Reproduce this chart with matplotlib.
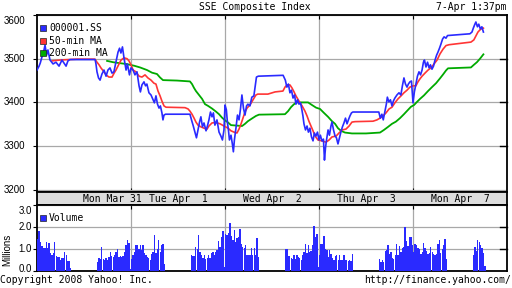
import matplotlib
matplotlib.use("Agg")
import matplotlib.pyplot as plt
from matplotlib.patches import Rectangle

# time axis = trading hours since Mon Mar 31 09:30 (5.5 h per trading day,
# 09:30-11:30 morning, 11:30-13:00 lunch, 13:00-15:00 afternoon)
day_bounds = [5.5, 11.0, 16.5, 22.0]
day_labels = ['Mon Mar 31', 'Tue Apr  1', 'Wed Apr  2', 'Thu Apr  3', 'Mon Apr  7']
day_label_t = [4.42, 8.25, 13.75, 19.25, 24.75]

price_t = [0.00, 0.12, 0.19, 0.29, 0.38, 0.47, 0.56, 0.64, 0.76, 0.94, 1.11, 1.29, 1.46, 1.58, 1.70, 1.81, 1.93,
           3.40, 3.45, 3.51, 3.60, 3.69, 3.80, 3.92, 4.04, 4.15, 4.27, 4.39, 4.50, 4.62, 4.74, 4.83, 4.91, 5.00,
           5.09, 5.21, 5.29, 5.41, 5.50,
           5.62, 5.73, 5.85, 5.97, 6.05, 6.14, 6.26, 6.35, 6.43, 6.55, 6.67, 6.79, 6.87, 6.96, 7.05, 7.14, 7.22,
           7.31, 7.37, 7.43, 7.52,
           8.95, 9.04, 9.13, 9.24, 9.33, 9.42, 9.51, 9.59, 9.68, 9.77, 9.89, 9.97, 10.06, 10.15, 10.24, 10.32,
           10.41, 10.53, 10.65, 10.76, 10.85, 10.94,
           11.00, 11.08, 11.14, 11.20, 11.26, 11.35, 11.43, 11.49, 11.55, 11.64, 11.73, 11.82, 11.90, 11.99,
           12.08, 12.17, 12.26, 12.34, 12.46, 12.57, 12.69, 12.78, 12.84, 12.95,
           14.40, 14.53, 14.62, 14.71, 14.80, 14.89, 14.98, 15.07, 15.15, 15.24, 15.33, 15.42, 15.50, 15.56,
           15.62, 15.71, 15.80, 15.88, 15.97, 16.06, 16.15, 16.23, 16.32, 16.41, 16.50,
           16.58, 16.67, 16.76, 16.82, 16.88, 16.94, 17.03, 17.11, 17.20, 17.26, 17.35, 17.44, 17.52, 17.61,
           17.70, 17.78, 17.87, 17.96, 18.05, 18.14, 18.22, 18.31, 18.40, 18.48,
           20.00, 20.09, 20.18, 20.26, 20.35, 20.44, 20.50, 20.59, 20.68, 20.77, 20.85, 20.94, 21.06, 21.18,
           21.29, 21.38, 21.47, 21.56, 21.65, 21.73, 21.82, 21.91,
           22.00, 22.08, 22.17, 22.26, 22.35, 22.44, 22.53, 22.61, 22.67, 22.76, 22.85, 22.94, 23.02, 23.11,
           23.20, 23.29, 23.38, 23.46, 23.55, 23.64, 23.73, 23.82, 23.93, 24.02,
           25.33, 25.45, 25.53, 25.62, 25.68, 25.77, 25.85, 25.94, 26.03, 26.12]
price = [3474, 3483, 3490, 3504, 3515, 3531, 3508, 3520, 3497, 3488, 3492, 3483, 3497, 3490, 3483, 3495, 3498,
         3498, 3488, 3470, 3456, 3451, 3465, 3474, 3460, 3474, 3479, 3467, 3470, 3492, 3515, 3524, 3513, 3527,
         3502, 3474, 3488, 3463, 3479,
         3474, 3463, 3470, 3438, 3424, 3440, 3447, 3438, 3442, 3422, 3417, 3406, 3399, 3415, 3396, 3387, 3392,
         3376, 3360, 3371, 3373,
         3373, 3360, 3348, 3332, 3319, 3337, 3355, 3367, 3344, 3353, 3335, 3346, 3360, 3378, 3367, 3376,
         3348, 3360, 3332, 3323, 3314, 3337,
         3394, 3383, 3355, 3337, 3314, 3325, 3305, 3287, 3314, 3341, 3371, 3360, 3383, 3417,
         3387, 3371, 3392, 3396, 3392, 3412, 3415, 3440, 3458, 3460,
         3462, 3451, 3435, 3442, 3422, 3428, 3410, 3417, 3396, 3406, 3396, 3399, 3383, 3369,
         3351, 3337, 3346, 3332, 3341, 3321, 3312, 3330, 3323, 3332, 3314,
         3325, 3312, 3316, 3268, 3296, 3314, 3337, 3325, 3346, 3355, 3337, 3323, 3319, 3305,
         3319, 3332, 3344, 3353, 3364, 3351, 3360, 3369, 3376, 3378,
         3378, 3364, 3373, 3360, 3378, 3396, 3412, 3401, 3406, 3392, 3403, 3410, 3417, 3422,
         3417, 3438, 3456, 3442, 3435, 3442, 3447, 3449,
         3399, 3424, 3442, 3460, 3470, 3463, 3474, 3492, 3497, 3481, 3492, 3479, 3486, 3476,
         3483, 3497, 3508, 3515, 3524, 3534, 3545, 3550, 3547, 3553,
         3557, 3561, 3570, 3579, 3584, 3573, 3579, 3568, 3573, 3561]

ma50_t = [0.88, 1.35, 2.34, 3.39, 3.51, 3.63, 3.74, 3.92, 4.04, 4.21, 4.39, 4.51, 4.62, 4.80, 4.92, 5.09,
          5.27, 5.38, 5.50, 5.62, 5.79, 5.97, 6.14, 6.32, 6.49, 6.67, 6.84, 6.96, 7.08, 7.20, 7.31, 7.43,
          7.55, 8.66, 8.84, 8.95, 9.07, 9.19, 9.30, 9.42, 9.59, 9.77, 9.95, 10.06, 10.24, 10.47, 10.71,
          10.94, 11.18, 11.35, 11.53, 11.70, 11.82, 11.94, 12.05, 12.17, 12.29, 12.46, 12.64, 12.81, 12.92,
          13.51, 13.93, 14.39, 14.51, 14.63, 14.80, 14.92, 15.04, 15.15, 15.33, 15.51, 15.68, 15.80, 15.91,
          16.03, 16.15, 16.27, 16.44, 16.67, 16.91, 17.09, 17.26, 17.50, 17.67, 17.85, 18.08, 18.26, 18.43,
          18.61, 19.66, 19.89, 20.07, 20.24, 20.42, 20.60, 20.77, 20.94, 21.12, 21.30, 21.47, 21.65, 21.82,
          22.00, 22.17, 22.29, 22.41, 22.53, 22.70, 22.88, 23.05, 23.23, 23.41, 23.58, 23.76, 23.93, 24.11,
          24.75, 25.39, 25.56, 25.68, 25.80, 25.92, 26.03, 26.12]
ma50 = [3495, 3497, 3499, 3499, 3492, 3486, 3479, 3470, 3463, 3458, 3458, 3467, 3474, 3488, 3497, 3502,
        3500, 3495, 3486, 3474, 3470, 3460, 3458, 3463, 3456, 3451, 3444, 3442, 3426, 3415, 3403, 3392,
        3389, 3388, 3385, 3380, 3373, 3364, 3355, 3348, 3344, 3341, 3339, 3346, 3353, 3354, 3351,
        3346, 3341, 3335, 3332, 3330, 3339, 3351, 3364, 3378, 3387, 3394, 3406, 3417, 3419,
        3419, 3424, 3426, 3435, 3440, 3440, 3433, 3424, 3415, 3403, 3392, 3380, 3369, 3357,
        3346, 3335, 3323, 3314, 3312, 3309, 3314, 3321, 3323, 3330, 3337, 3339, 3346, 3355,
        3356, 3357, 3360, 3364, 3369, 3376, 3385, 3389, 3399, 3408, 3415, 3422, 3428, 3435,
        3438, 3438, 3447, 3454, 3460, 3467, 3474, 3479, 3488, 3497, 3511, 3522, 3530, 3532,
        3535, 3538, 3543, 3552, 3561, 3566, 3569, 3570]

ma200_t = [4.10, 4.45, 4.80, 5.21, 5.68, 6.03, 6.44, 6.73, 7.02, 7.20, 7.37, 8.19, 8.95, 9.07, 9.19, 9.30,
           9.48, 9.66, 9.83, 10.01, 10.24, 10.47, 10.65, 10.83, 11.00, 11.18, 11.35, 12.00, 12.17, 12.34,
           12.57, 12.81, 12.99, 14.51, 14.69, 14.86, 15.04, 15.21, 15.86, 16.09, 16.33, 16.56, 16.79, 17.03,
           17.26, 17.44, 17.61, 17.79, 18.02, 18.43, 19.25, 20.07, 20.30, 20.54, 20.77, 21.00, 21.24, 21.47,
           21.71, 21.88, 22.06, 22.23, 22.41, 22.64, 22.88, 23.11, 23.35, 23.58, 23.76, 23.93, 24.05, 25.39,
           25.56, 25.74, 25.92, 26.12]
ma200 = [3495, 3492, 3490, 3488, 3484, 3480, 3474, 3468, 3465, 3457, 3451, 3450, 3448, 3442, 3433, 3426,
         3417, 3408, 3396, 3392, 3386, 3379, 3373, 3365, 3359, 3354, 3348, 3346, 3351, 3357,
         3363, 3369, 3372, 3373, 3380, 3389, 3396, 3400, 3400, 3394, 3388, 3385, 3376, 3367,
         3357, 3351, 3341, 3335, 3331, 3329, 3329, 3331, 3337, 3344, 3351, 3356, 3364, 3373,
         3383, 3390, 3394, 3401, 3408, 3416, 3426, 3435, 3444, 3455, 3464, 3473, 3478, 3480,
         3486, 3492, 3500, 3510]

# volume in millions, 5-minute bars per half-day session
session_start = [0.0, 3.5, 5.5, 9.0, 11.0, 14.5, 16.5, 20.0, 22.0, 25.5]
vol_0331_am = [1.45, 1.82, 1.30, 1.15, 1.05, 1.05, 1.33, 1.03, 1.28, 0.80, 0.75, 0.82, 1.30, 0.70, 0.65, 0.62,
               0.50, 0.58, 0.60, 0.88, 0.72, 0.45, 0.45, 0.15]
vol_0331_pm = [0.42, 0.58, 0.55, 1.10, 0.55, 0.50, 0.58, 0.52, 0.65, 0.85, 0.70, 0.65, 0.72, 0.85, 1.00, 0.62,
               0.68, 0.62, 0.70, 0.85, 1.18, 1.40, 1.28, 0.10]
vol_0401_am = [0.55, 0.75, 0.88, 1.20, 1.18, 1.02, 1.18, 0.95, 1.20, 0.80, 0.72, 0.65, 0.60, 0.52, 0.78, 0.88,
               1.62, 0.80, 1.02, 1.40, 0.88, 1.18, 1.22, 0.30]
vol_0401_pm = [0.75, 0.70, 0.68, 1.10, 1.00, 1.65, 0.88, 0.72, 0.60, 0.72, 0.55, 0.60, 0.72, 0.60, 0.80, 0.88,
               0.72, 0.88, 0.95, 1.35, 1.10, 1.55, 1.80, 0.20]
vol_0402_am = [1.70, 1.65, 1.72, 2.18, 1.58, 1.40, 1.85, 1.33, 1.52, 1.55, 1.92, 1.25, 1.10, 1.05, 1.18, 0.72,
               0.72, 0.72, 1.05, 0.72, 1.05, 0.75, 1.48, 0.65]
vol_0402_pm = [0.98, 1.02, 0.68, 0.68, 0.58, 0.55, 0.72, 0.55, 0.72, 0.65, 0.58, 0.50, 0.72, 0.88, 1.25, 0.80,
               1.18, 0.88, 0.92, 1.18, 2.05, 1.55, 1.68, 0.20]
vol_0403_am = [0.73, 1.25, 1.25, 1.58, 1.00, 0.95, 0.65, 0.95, 0.76, 0.58, 0.52, 0.66, 0.72, 0.52, 0.75, 0.52,
               0.52, 0.75, 0.52, 0.52, 0.45, 0.52, 0.45, 0.78]
vol_0403_pm = [0.55, 0.40, 0.50, 0.42, 0.90, 0.95, 1.18, 0.76, 0.88, 0.58, 0.55, 0.73, 1.21, 0.73, 1.14, 0.88,
               1.03, 1.10, 2.02, 1.36, 1.15, 1.56, 1.53, 1.18]
vol_0407_am = [0.88, 1.21, 1.18, 1.03, 1.00, 0.76, 0.88, 1.26, 1.03, 0.91, 0.76, 0.80, 1.10, 0.88, 0.76, 0.73,
               0.76, 1.21, 1.41, 0.80, 1.00, 1.18, 1.45, 0.55]
vol_0407_pm = [0.73, 1.10, 0.91, 1.41, 1.30, 1.18, 1.03, 0.80, 0.25]
sessions = [vol_0331_am, vol_0331_pm, vol_0401_am, vol_0401_pm, vol_0402_am,
            vol_0402_pm, vol_0403_am, vol_0403_pm, vol_0407_am, vol_0407_pm]

BLUE = '#2a2aff'
RED = '#ff3535'
GREEN = '#00aa00'
GRID = '#a8a8a8'
MONO = 'DejaVu Sans Mono'
SANS = 'Liberation Sans'

W, H = 512, 288
def box(x0, y0, x1, y1):
    return [x0 / W, 1 - y1 / H, (x1 - x0) / W, (y1 - y0) / H]

fig = plt.figure(figsize=(5.12, 2.88), dpi=100)
ax = fig.add_axes(box(37, 15, 507, 192))
band = fig.add_axes(box(37, 192, 507, 205))
vax = fig.add_axes(box(37, 205, 507, 271))

for a in (ax, band, vax):
    a.set_xlim(0, 27.5)
    for s in a.spines.values():
        s.set_linewidth(1.3)

# price panel
ax.plot(ma200_t, ma200, color=GREEN, lw=1.3, zorder=3)
ax.plot(ma50_t, ma50, color=RED, lw=1.2, zorder=4)
ax.plot(price_t, price, color=BLUE, lw=1.2, zorder=5)
ax.set_ylim(3195, 3600)
ax.set_xticks(day_bounds)
ax.set_yticks([3200, 3300, 3400, 3500, 3600])
ax.grid(True, color=GRID, lw=0.9, zorder=0)
ax.tick_params(axis='x', direction='in', top=True, bottom=True, length=3, labelbottom=False)
ax.tick_params(axis='y', direction='out', left=True, right=False, length=3, labelleft=False)
for v in [3300, 3400, 3500]:
    ax.plot([1, 0.985], [v, v], color='black', lw=1, transform=ax.get_yaxis_transform(),
            clip_on=False, zorder=6)
ylab_y = {3600: 3587, 3500: 3500, 3400: 3400, 3300: 3300, 3200: 3200}
for v, yy in ylab_y.items():
    ax.text(-12 / 470, yy, str(v), transform=ax.get_yaxis_transform(), ha='right', va='center',
            fontsize=7, family=SANS)

# date band
band.set_facecolor('#dddddd')
band.set_ylim(0, 1)
band.set_xticks([])
band.set_yticks([])
for t, lab in zip(day_label_t, day_labels):
    band.text(t, 0.45, lab, ha='center', va='center', fontsize=7, family=MONO)

# volume panel
slot = 5 / 60
for start, vols in zip(session_start, sessions):
    xs = [start + (i + 0.5) * slot for i in range(len(vols))]
    vax.bar(xs, vols, width=slot * 0.95, color=BLUE, linewidth=0, antialiased=False, zorder=3)
vax.set_ylim(0, 3)
vax.set_xticks(day_bounds)
vax.set_yticks([0, 1, 2, 3])
vax.grid(True, color=GRID, lw=0.9, zorder=0)
vax.tick_params(axis='x', direction='in', top=True, bottom=False, length=3, labelbottom=False)
vax.tick_params(axis='y', direction='out', left=True, right=False, length=3, labelleft=False)
for v in [1, 2]:
    vax.plot([1, 0.985], [v, v], color='black', lw=1, transform=vax.get_yaxis_transform(),
             clip_on=False, zorder=6)
vlab_y = {3: 2.73, 2: 2.0, 1: 1.0, 0: 0.09}
for v, yy in vlab_y.items():
    vax.text(-5 / 470, yy, '%.1f' % v, transform=vax.get_yaxis_transform(), ha='right', va='center',
             fontsize=7, family=SANS)
fig.text(7.5 / W, 1 - 250 / H, 'Millions', rotation=90, ha='center', va='center', fontsize=7, family=SANS)

# legends
legend = [('000001.SS', BLUE, 28), ('50-min MA', RED, 41), ('200-min MA', GREEN, 53)]
for lab, c, y in legend:
    fig.patches.append(Rectangle((40 / W, 1 - (y + 3) / H), 6 / W, 6 / H, transform=fig.transFigure,
                                 facecolor=c, edgecolor='#222222', lw=0.5, zorder=10))
    fig.text(49 / W, 1 - y / H, lab, ha='left', va='center', fontsize=7, family=MONO, zorder=10)
fig.patches.append(Rectangle((40 / W, 1 - 221 / H), 6 / W, 6 / H, transform=fig.transFigure,
                             facecolor=BLUE, edgecolor='#222222', lw=0.5, zorder=10))
fig.text(49 / W, 1 - 218 / H, 'Volume', ha='left', va='center', fontsize=7, family=MONO, zorder=10)

# header and footer
fig.text(255 / W, 1 - 7 / H, 'SSE Composite Index', ha='center', va='center', fontsize=7, family=MONO)
fig.text(506 / W, 1 - 7 / H, '7-Apr 1:37pm', ha='right', va='center', fontsize=7, family=MONO)
fig.text(0, 1 - 280 / H, 'Copyright 2008 Yahoo! Inc.', ha='left', va='center', fontsize=7, family=MONO)
fig.text(511 / W, 1 - 280 / H, 'http://finance.yahoo.com/', ha='right', va='center', fontsize=7, family=MONO)

fig.savefig('out.png', dpi=100)
